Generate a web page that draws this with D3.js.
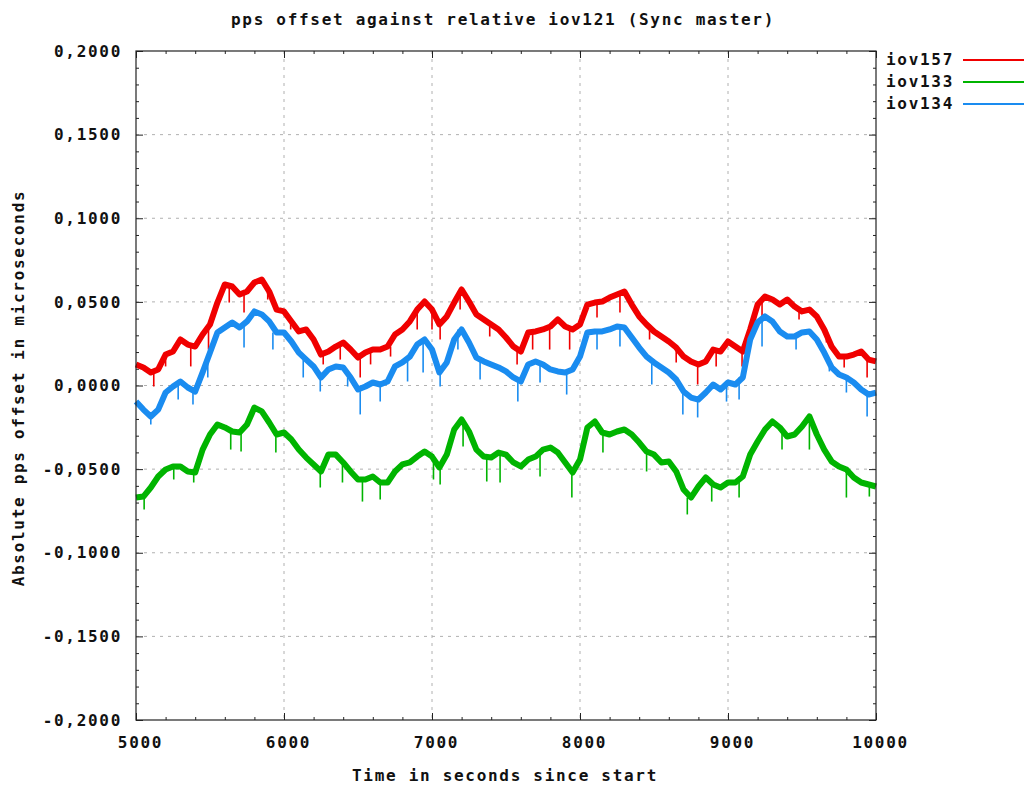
<!DOCTYPE html>
<html>
<head>
<meta charset="utf-8">
<script src="https://cdn.jsdelivr.net/npm/d3@7"></script>
<style>
body { margin: 0; background: #fff; }
text { font-family: "DejaVu Sans Mono", monospace; font-weight: bold; font-size: 16px; letter-spacing: 1.7px; fill: #111; }
.grid line { stroke: #b0b0b0; stroke-dasharray: 3,5; }
.axis path { display: none; }
.axis line { stroke: #222; }
</style>
</head>
<body>
<script>
// sample times (seconds since start), one reading every 50 s
var times = [5000,5050,5100,5150,5200,5250,5300,5350,5400,5450,
	5500,5550,5600,5650,5700,5750,5800,5850,5900,5950,
	6000,6050,6100,6150,6200,6250,6300,6350,6400,6450,
	6500,6550,6600,6650,6700,6750,6800,6850,6900,6950,
	7000,7050,7100,7150,7200,7250,7300,7350,7400,7450,
	7500,7550,7600,7650,7700,7750,7800,7850,7900,7950,
	8000,8050,8100,8150,8200,8250,8300,8350,8400,8450,
	8500,8550,8600,8650,8700,8750,8800,8850,8900,8950,
	9000,9050,9100,9150,9200,9250,9300,9350,9400,9450,
	9500,9550,9600,9650,9700,9750,9800,9850,9900,9950,
	10000];

var iov157 = [0.0126,0.0108,0.0078,0.0096,0.0185,0.0203,0.0275,0.0245,0.0233,0.0305,
	0.0365,0.0496,0.0604,0.0592,0.0544,0.0562,0.0616,0.0634,0.0562,0.0454,
	0.0443,0.0383,0.0323,0.0335,0.0275,0.0185,0.0203,0.0233,0.0257,0.0215,
	0.0167,0.0197,0.0215,0.0215,0.0233,0.0305,0.0335,0.0383,0.0454,0.0502,
	0.0454,0.0365,0.0413,0.0496,0.0574,0.0502,0.0425,0.0395,0.0365,0.0335,
	0.0287,0.0233,0.0203,0.0317,0.0323,0.0335,0.0353,0.0395,0.0353,0.0335,
	0.0365,0.0484,0.0496,0.0502,0.0526,0.0544,0.0562,0.0484,0.0413,0.0365,
	0.0323,0.0293,0.0263,0.0227,0.0173,0.0144,0.0126,0.0144,0.0215,0.0203,
	0.0263,0.0233,0.0203,0.0335,0.0484,0.0532,0.0514,0.0484,0.0514,0.0472,
	0.0443,0.0454,0.0413,0.0335,0.0233,0.0173,0.0173,0.0185,0.0203,0.0155,
	0.0144];

var iov133 = [-0.0670,-0.0664,-0.0610,-0.0544,-0.0502,-0.0484,-0.0484,-0.0514,-0.0520,-0.0383,
	-0.0293,-0.0233,-0.0251,-0.0275,-0.0281,-0.0233,-0.0132,-0.0155,-0.0221,-0.0293,
	-0.0281,-0.0323,-0.0383,-0.0431,-0.0472,-0.0514,-0.0413,-0.0413,-0.0460,-0.0514,
	-0.0562,-0.0562,-0.0544,-0.0580,-0.0580,-0.0514,-0.0472,-0.0460,-0.0425,-0.0395,
	-0.0425,-0.0490,-0.0413,-0.0263,-0.0203,-0.0275,-0.0383,-0.0425,-0.0431,-0.0401,
	-0.0413,-0.0460,-0.0484,-0.0443,-0.0425,-0.0383,-0.0371,-0.0401,-0.0460,-0.0520,
	-0.0443,-0.0251,-0.0215,-0.0281,-0.0293,-0.0275,-0.0263,-0.0293,-0.0341,-0.0395,
	-0.0413,-0.0460,-0.0454,-0.0514,-0.0622,-0.0670,-0.0604,-0.0550,-0.0592,-0.0610,
	-0.0580,-0.0580,-0.0544,-0.0413,-0.0335,-0.0263,-0.0215,-0.0251,-0.0305,-0.0293,
	-0.0245,-0.0185,-0.0293,-0.0383,-0.0454,-0.0484,-0.0502,-0.0550,-0.0580,-0.0592,
	-0.0604];

var iov134 = [-0.0096,-0.0144,-0.0185,-0.0144,-0.0042,-0.0006,0.0024,-0.0012,-0.0036,0.0078,
	0.0197,0.0317,0.0347,0.0377,0.0347,0.0383,0.0443,0.0425,0.0383,0.0317,
	0.0317,0.0263,0.0197,0.0155,0.0114,0.0048,0.0096,0.0114,0.0108,0.0048,
	-0.0024,-0.0006,0.0018,0.0006,0.0024,0.0114,0.0138,0.0173,0.0245,0.0275,
	0.0215,0.0078,0.0138,0.0275,0.0335,0.0257,0.0167,0.0144,0.0126,0.0108,
	0.0084,0.0048,0.0024,0.0126,0.0144,0.0126,0.0096,0.0084,0.0078,0.0096,
	0.0173,0.0317,0.0323,0.0323,0.0335,0.0353,0.0347,0.0287,0.0227,0.0173,
	0.0138,0.0108,0.0078,0.0036,-0.0036,-0.0072,-0.0084,-0.0042,0.0006,-0.0024,
	0.0018,0.0006,0.0048,0.0275,0.0377,0.0413,0.0383,0.0323,0.0293,0.0293,
	0.0317,0.0323,0.0275,0.0197,0.0108,0.0066,0.0048,0.0018,-0.0024,-0.0054,
	-0.0042];

// downward glitches: [time, lowest value]
var spikes157 = [[5120,-0.0006],[5200,0.0114],[5370,0.0114],[5490,0.0215],[5630,0.0496],[5730,0.0437],
	[5890,0.0514],[6045,0.0335],[6265,0.0126],[6380,0.0155],[6515,0.0048],[6585,0.0126],[6720,0.0173],
	[6900,0.0335],[7000,0.0335],[7055,0.0275],[7190,0.0454],[7390,0.0293],[7575,0.0126],[7680,0.0215],
	[7795,0.0215],[7930,0.0215],[8115,0.0407],[8270,0.0437],[8470,0.0275],[8650,0.0138],[8795,0.0006],
	[8920,0.0114],[9095,0.0114],[9230,0.0377],[9480,0.0395],[9665,0.0257],[9785,0.0108],[9940,0.0048]];
var spikes133 = [[5055,-0.0742],[5255,-0.0562],[5390,-0.0580],[5640,-0.0383],[5710,-0.0395],[5945,-0.0401],
	[6245,-0.0610],[6395,-0.0580],[6530,-0.0694],[6650,-0.0682],[7010,-0.0562],[7055,-0.0592],[7210,-0.0365],
	[7370,-0.0574],[7460,-0.0580],[7730,-0.0544],[7945,-0.0670],[8155,-0.0401],[8450,-0.0514],[8725,-0.0771],
	[8890,-0.0694],[9075,-0.0670],[9365,-0.0383],[9550,-0.0383],[9800,-0.0670],[9955,-0.0664]];
var spikes134 = [[5100,-0.0233],[5285,-0.0084],[5385,-0.0114],[5485,0.0048],[5730,0.0227],[5925,0.0215],
	[6130,0.0048],[6245,-0.0036],[6430,-0.0006],[6515,-0.0173],[6650,-0.0096],[6835,0.0024],[6940,0.0078],
	[7055,-0.0006],[7175,0.0215],[7325,0.0036],[7580,-0.0096],[7730,0.0018],[7910,-0.0054],[8115,0.0215],
	[8270,0.0233],[8485,0.0006],[8695,-0.0173],[8795,-0.0191],[8990,-0.0096],[9075,-0.0084],[9230,0.0233],
	[9460,0.0215],[9685,0.0084],[9800,-0.0042],[9940,-0.0185]];

var names = ["iov157", "iov133", "iov134"],
	colors = ["#f00000", "#00b400", "#1a8cf0"];
var xTicks = [5000, 6000, 7000, 8000, 9000, 10000],
	yTicks = [-0.2, -0.15, -0.1, -0.05, 0, 0.05, 0.1, 0.15, 0.2];

var margin = { top: 51, right: 148, bottom: 66, left: 136 },
	width = 1024 - margin.left - margin.right,
	height = 786 - margin.top - margin.bottom;

var svg = d3.select("body").append("svg")
	.attr("width", 1024)
	.attr("height", 786);

var g = svg.append("g")
	.attr("transform", "translate(" + margin.left + "," + margin.top + ")");

var x = d3.scaleLinear().domain([5000, 10000]).range([0, width]);
var y = d3.scaleLinear().domain([-0.2, 0.2]).range([height, 0]);
var yFmt = function(d) { return d3.format(".4f")(d).replace(".", ",").replace("−", "-"); };

// grid
g.append("g").attr("class", "grid")
	.selectAll("line").data(xTicks.slice(1, -1)).enter().append("line")
	.attr("x1", d => x(d)).attr("x2", d => x(d)).attr("y1", 0).attr("y2", height);
g.append("g").attr("class", "grid")
	.selectAll("line").data(yTicks.slice(1, -1)).enter().append("line")
	.attr("x1", 0).attr("x2", width).attr("y1", d => y(d)).attr("y2", d => y(d));

// minor ticks (inward, mirrored)
var xMinor = d3.range(5000, 10001, 200).filter(d => d % 1000 != 0),
	yMinor = d3.range(-20, 21).filter(d => d % 5 != 0).map(d => d / 100);
g.append("g").attr("class", "axis").attr("transform", "translate(0," + height + ")")
	.call(d3.axisBottom(x).tickValues(xMinor).tickSize(-3).tickFormat(""));
g.append("g").attr("class", "axis")
	.call(d3.axisTop(x).tickValues(xMinor).tickSize(-3).tickFormat(""));
g.append("g").attr("class", "axis")
	.call(d3.axisLeft(y).tickValues(yMinor).tickSize(-3).tickFormat(""));
g.append("g").attr("class", "axis").attr("transform", "translate(" + width + ",0)")
	.call(d3.axisRight(y).tickValues(yMinor).tickSize(-3).tickFormat(""));

// major ticks with labels
var xAxis = g.append("g").attr("class", "axis").attr("transform", "translate(0," + height + ")")
	.call(d3.axisBottom(x).tickValues(xTicks).tickSize(-7).tickPadding(17).tickFormat(d3.format("d")));
xAxis.selectAll("text").attr("dx", 4);
g.append("g").attr("class", "axis")
	.call(d3.axisTop(x).tickValues(xTicks).tickSize(-7).tickFormat(""));
g.append("g").attr("class", "axis")
	.call(d3.axisLeft(y).tickValues(yTicks).tickSize(-7).tickPadding(14).tickFormat(yFmt));
g.append("g").attr("class", "axis").attr("transform", "translate(" + width + ",0)")
	.call(d3.axisRight(y).tickValues(yTicks).tickSize(-7).tickFormat(""));
g.selectAll(".axis text").attr("font-family", null).attr("font-size", null).attr("fill", null);

// series
var series = [iov157, iov133, iov134],
	spikes = [spikes157, spikes133, spikes134];
var line = d3.line()
	.x((d, i) => x(times[i]))
	.y(d => y(d));

series.forEach(function(s, k) {
	var sg = g.append("g");
	sg.selectAll("line").data(spikes[k]).enter().append("line")
		.attr("x1", d => x(d[0])).attr("x2", d => x(d[0]))
		.attr("y1", d => y(s[Math.round((d[0] - 5000) / 50)]))
		.attr("y2", d => y(d[1]))
		.attr("stroke", colors[k])
		.attr("stroke-width", 1.6);
	sg.append("path")
		.datum(s)
		.attr("d", line)
		.attr("fill", "none")
		.attr("stroke", colors[k])
		.attr("stroke-width", 6)
		.attr("stroke-linejoin", "round");
});

// border
g.append("rect")
	.attr("width", width).attr("height", height)
	.attr("fill", "none").attr("stroke", "#222").attr("stroke-width", 1.2);

// titles
svg.append("text").attr("x", 503).attr("y", 25).attr("text-anchor", "middle")
	.text("pps offset against relative iov121 (Sync master)");
svg.append("text").attr("x", 505).attr("y", 781).attr("text-anchor", "middle")
	.text("Time in seconds since start");
svg.append("text").attr("transform", "translate(24,388) rotate(-90)").attr("text-anchor", "middle")
	.text("Absolute pps offset in microseconds");

// legend
var legend = svg.selectAll(".legend").data(names).enter().append("g")
	.attr("class", "legend")
	.attr("transform", (d, i) => "translate(886," + (60 + i * 22) + ")");
legend.append("text").attr("y", 5).text(d => d);
legend.append("line")
	.attr("x1", 77).attr("x2", 145)
	.attr("stroke", (d, i) => colors[i]).attr("stroke-width", 1.8);
</script>
</body>
</html>
